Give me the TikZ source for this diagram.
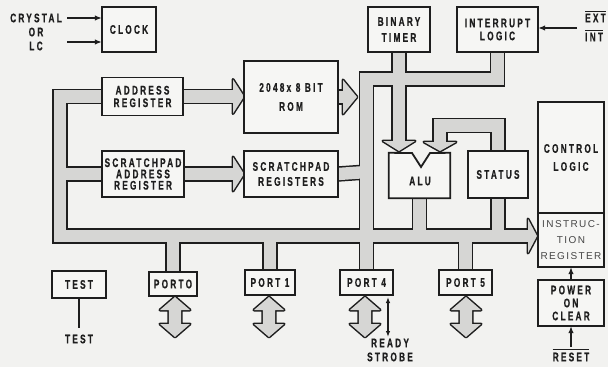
\documentclass[tikz,border=0pt]{standalone}
\usepackage{fontspec}
\usetikzlibrary{arrows.meta,calc}
\newfontfamily\lblfont{Liberation Sans}[FakeStretch=0.66,LetterSpace=18,FakeBold=0.6]
\newfontfamily\irfont{Liberation Sans}[LetterSpace=14]
\definecolor{ink}{RGB}{30,30,30}
\definecolor{bgc}{RGB}{242,242,240}
\definecolor{boxc}{RGB}{246,246,244}
\definecolor{bandc}{RGB}{214,214,212}
\definecolor{irtext}{RGB}{70,70,70}
\newcommand\bandnet[2]{%
  \draw[#1] (ar.west) -- (60,96.5) -- (60,236) -- (530,236);
  \draw[#1] (sar.west) -- (60,174);
  \draw[#1] (ar.east) -- (235,96.5);
  \draw[#1] (sar.east) -- (235,174);
  \draw[#1] (rom.east) -- (345,97);
  \draw[#1] (sr.east) -- (366.5,172);
  \draw[#1] (il.south) -- (497.5,79) -- (366.5,79) -- (p4.north);
  \draw[#1] (bt.south) -- (399,143);
  \draw[#1] (alu.south) -- (419.5,236);
  \draw[#1] (st.south) -- (498,236);
  \draw[#1] (st.north) -- (498,125.5) -- (440,125.5) -- (440,144);
  \draw[#1] (173,236) -- (p0.north);
  \draw[#1] (270,236) -- (p1.north);
  \draw[#1] (465.5,236) -- (p5.north);
  \path[#2] (233,79.5) -- (244,96.5) -- (233,113.5) -- cycle;
  \path[#2] (233,157) -- (244,174) -- (233,191) -- cycle;
  \path[#2] (343,80) -- (357,97) -- (343,114) -- cycle;
  \path[#2] (383,141) -- (399,151) -- (415,141) -- cycle;
  \path[#2] (424,142) -- (440,151) -- (456,142) -- cycle;
  \path[#2] (528,219) -- (537,236) -- (528,253) -- cycle;
  \foreach \c in {175,269,365,466} {%
    \path[#2] (\c,297) -- ++(15,13) -- ++(-8.8,0) -- ++(0,14) -- ++(8.8,0) -- (\c,337)
      -- ++(-15,-13) -- ++(8.8,0) -- ++(0,-14) -- ++(-8.8,0) -- cycle;}
}
\begin{document}
\begin{tikzpicture}[x=1pt,y=-1pt,
  box/.style={draw=ink, line width=1.8pt, fill=boxc, inner sep=0pt, align=center, text=ink,
    font=\lblfont\bfseries\fontsize{12.5}{13}\selectfont},
  ghost/.style={inner sep=0pt},
  lbl/.style={text=ink, inner sep=0pt, align=center, font=\lblfont\bfseries\fontsize{12.5}{14}\selectfont},
  arr/.style={draw=ink, line width=1.3pt, -{Latex[length=7pt,width=5.5pt]}},
  bandout/.style={draw=ink, line width=15.4pt},
  bandpolyout/.style={draw=ink, fill=ink, line width=3pt, line join=round},
  bandin/.style={draw=bandc, line width=12.4pt},
  bandpolyin/.style={fill=bandc}]
\useasboundingbox (0,0) rectangle (608,367);
\fill[bgc] (0,0) rectangle (608,367);
% node placeholders (positions)
\node[ghost, minimum width=54, minimum height=45] (clock) at (129,29.5) {};
\node[ghost, minimum width=81, minimum height=38] (ar) at (142.5,96.5) {};
\node[ghost, minimum width=94, minimum height=72] (rom) at (291,97) {};
\node[ghost, minimum width=82, minimum height=46] (sar) at (143,174) {};
\node[ghost, minimum width=94, minimum height=46] (sr) at (291,174) {};
\node[ghost, minimum width=62, minimum height=45] (bt) at (399,29.5) {};
\node[ghost, minimum width=81, minimum height=45] (il) at (497.5,29.5) {};
\node[ghost, minimum width=61, minimum height=45] (alu) at (419.5,175.5) {};
\node[ghost, minimum width=60, minimum height=47] (st) at (498,174.5) {};
\node[ghost, minimum width=66, minimum height=111] (cl) at (571,157.5) {};
\node[ghost, minimum width=66, minimum height=54] (ir) at (571,240) {};
\node[ghost, minimum width=66, minimum height=46] (poc) at (571,303) {};
\node[ghost, minimum width=54, minimum height=27] (test) at (79,284.5) {};
\node[ghost, minimum width=48, minimum height=24] (p0) at (173,284) {};
\node[ghost, minimum width=50, minimum height=25] (p1) at (270,282.5) {};
\node[ghost, minimum width=53, minimum height=25] (p4) at (366.5,282.5) {};
\node[ghost, minimum width=53, minimum height=25] (p5) at (465.5,282.5) {};
% bands: outline pass then fill pass
\bandnet{bandout}{bandpolyout}
\bandnet{bandin}{bandpolyin}
% boxes
\node[box, minimum width=54, minimum height=45] at (clock) {CLOCK};
\node[box, minimum width=81, minimum height=38, font=\lblfont\bfseries\fontsize{12.5}{12.5}\selectfont] at (ar) {ADDRESS\\REGISTER};
\node[box, minimum width=94, minimum height=72, font=\lblfont\bfseries\fontsize{12.5}{19}\selectfont] at (rom) {2048x 8 BIT\\ROM};
\node[box, minimum width=82, minimum height=46, font=\lblfont\bfseries\fontsize{12.5}{11.3}\selectfont] at (sar) {SCRATCHPAD\\ADDRESS\\REGISTER};
\node[box, minimum width=94, minimum height=46, font=\lblfont\bfseries\fontsize{12.5}{15}\selectfont] at (sr) {SCRATCHPAD\\REGISTERS};
\node[box, minimum width=62, minimum height=45, font=\lblfont\bfseries\fontsize{12.5}{16}\selectfont] at (bt) {BINARY\\TIMER};
\node[box, minimum width=81, minimum height=45, font=\lblfont\bfseries\fontsize{12.5}{13}\selectfont] at (il) {INTERRUPT\\LOGIC};
\filldraw[draw=ink, fill=boxc, line width=1.8pt] (alu.north west) -- (412,153) -- (421,167) -- (430,153)
  -- (alu.north east) -- (alu.south east) -- (alu.south west) -- cycle;
\node[lbl] at (420,181) {ALU};
\node[box, minimum width=60, minimum height=47] at (st) {STATUS};
\node[box, minimum width=66, minimum height=111, font=\lblfont\bfseries\fontsize{12.5}{18}\selectfont] at (cl) {CONTROL\\LOGIC};
\node[box, minimum width=66, minimum height=54, text=irtext, font=\irfont\fontsize{10}{16}\selectfont] at (ir) {INSTRUC-\\TION\\REGISTER};
\node[box, minimum width=66, minimum height=46, font=\lblfont\bfseries\fontsize{12.5}{13}\selectfont] at (poc) {POWER\\ON\\CLEAR};
\node[box, minimum width=54, minimum height=27] at (test) {TEST};
\node[box, minimum width=48, minimum height=24] at (p0) {PORTO};
\node[box, minimum width=50, minimum height=25] at (p1) {PORT 1};
\node[box, minimum width=53, minimum height=25] at (p4) {PORT 4};
\node[box, minimum width=53, minimum height=25] at (p5) {PORT 5};
% thin arrows and lines
\coordinate (c1) at (67,18);
\coordinate (c2) at (67,42);
\draw[arr] (c1) -- (c1 -| clock.west);
\draw[arr] (c2) -- (c2 -| clock.west);
\coordinate (e1) at (577,28);
\draw[arr] (e1) -- (e1 -| il.east);
\draw[arr] (poc.north) -- (ir.south);
\coordinate (r1) at (571,347);
\draw[arr] (r1) -- (poc.south);
\coordinate (rs1) at (388,297);
\coordinate (rs2) at (388,337);
\draw[draw=ink, line width=1.3pt, {Latex[length=6pt,width=4.5pt]}-{Latex[length=6pt,width=4.5pt]}] (rs1) -- (rs2);
\coordinate (tl) at (79,328);
\draw[draw=ink, line width=1.3pt] (test.south) -- (tl);
% free texts
\node[lbl] (xtal) at (36,32) {CRYSTAL\\OR\\LC};
\node[lbl, anchor=west, inner ysep=2.5pt] (ext) at (585,18) {EXT};
\draw[draw=ink, line width=1pt] (ext.north west) -- (ext.north east);
\node[lbl, anchor=west, inner ysep=2.5pt] (int) at (585,37) {INT};
\draw[draw=ink, line width=1pt] (int.north west) -- (int.north east);
\node[lbl] (testt) at (79,339) {TEST};
\node[lbl] (rdy) at (390,350) {READY\\STROBE};
\node[lbl, inner ysep=3pt] (rst) at (571,357) {RESET};
\draw[draw=ink, line width=1pt] (rst.north west) -- (rst.north east);
\end{tikzpicture}
\end{document}
